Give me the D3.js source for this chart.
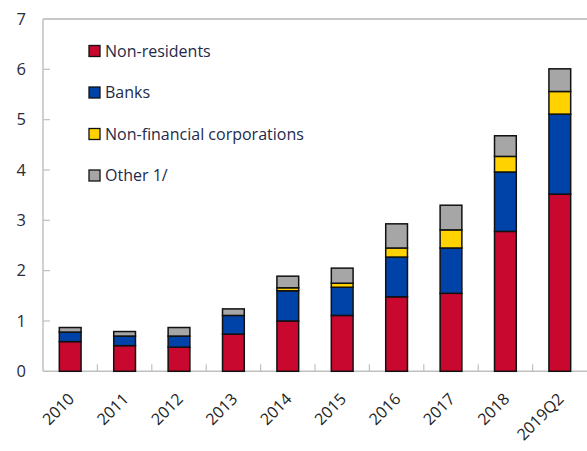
<!DOCTYPE html>
<html><head><meta charset="utf-8">
<script src="https://cdn.jsdelivr.net/npm/d3@7"></script>
<style>body{margin:0;background:#fff;} svg{display:block;}</style>
</head><body>
<script>
const categories = ["2010","2011","2012","2013","2014","2015","2016","2017","2018","2019Q2"];
const nonResidents = [0.59,0.51,0.48,0.74,1.00,1.11,1.48,1.55,2.78,3.52];
const banks        = [0.19,0.19,0.22,0.37,0.60,0.56,0.79,0.90,1.18,1.59];
const nonFinCorps  = [0.00,0.00,0.00,0.00,0.06,0.08,0.18,0.36,0.31,0.45];
const other        = [0.09,0.09,0.17,0.13,0.23,0.30,0.48,0.49,0.41,0.45];
const seriesNames = ["Non-residents","Banks","Non-financial corporations","Other 1/"];
const seriesColors = ["#c8082f","#0043a8","#ffd200","#a6a6a6"];
const yTicks = [0,1,2,3,4,5,6,7];

const W = 587, H = 451;
const m = {left:43, right:0, top:19, bottom:80};
const svg = d3.select("body").append("svg").attr("width",W).attr("height",H);

const x = d3.scaleBand().domain(categories).range([m.left, W-m.right]).paddingInner(0.6).paddingOuter(0.3);
const xb = d3.scaleBand().domain(categories).range([m.left, W-m.right]);
const y = d3.scaleLinear().domain([0,7]).range([371.3, m.top]);

const table = categories.map((c,i)=>({cat:c, s0:nonResidents[i], s1:banks[i], s2:nonFinCorps[i], s3:other[i]}));
const stack = d3.stack().keys(["s0","s1","s2","s3"])(table);

// frame lines
svg.append("line").attr("x1",m.left).attr("x2",W).attr("y1",y(7)).attr("y2",y(7)).attr("stroke","#c8c8c8").attr("stroke-width",2);
svg.append("line").attr("x1",m.left).attr("x2",m.left).attr("y1",y(7)).attr("y2",y(0)).attr("stroke","#c0c0c0").attr("stroke-width",1.5);
svg.append("line").attr("x1",m.left).attr("x2",W).attr("y1",y(0)).attr("y2",y(0)).attr("stroke","#c0c0c0").attr("stroke-width",1.5);

// y ticks
const yg = svg.append("g");
yg.selectAll("line").data(yTicks.filter(t=>t>0&&t<7)).join("line")
  .attr("x1",m.left).attr("x2",m.left+7).attr("y1",d=>y(d)).attr("y2",d=>y(d)).attr("stroke","#c0c0c0").attr("stroke-width",1.2);
yg.selectAll("text").data(yTicks).join("text")
  .attr("x",26).attr("y",d=>y(d)).attr("dy","0.35em").attr("text-anchor","end")
  .attr("font-family","Open Sans, sans-serif").attr("font-size",16.5).attr("fill","#2a2a3a").text(d=>d);

// x ticks (between categories)
svg.append("g").selectAll("line").data(categories.slice(1)).join("line")
  .attr("x1",d=>xb(d)).attr("x2",d=>xb(d)).attr("y1",y(0)).attr("y2",y(0)-7).attr("stroke","#c0c0c0").attr("stroke-width",1.2);

// bars
svg.append("g").selectAll("g").data(stack).join("g")
  .attr("fill",(d,i)=>seriesColors[i])
  .selectAll("rect").data(d=>d.filter(p=>p[1]-p[0]>0)).join("rect")
  .attr("x",d=>x(d.data.cat)).attr("width",x.bandwidth())
  .attr("y",d=>y(d[1])).attr("height",d=>y(d[0])-y(d[1]))
  .attr("stroke","#111").attr("stroke-width",1.5);

// x labels
svg.append("g").selectAll("text").data(categories).join("text")
  .attr("transform",d=>`translate(${xb(d)+xb.bandwidth()/2+5},${400}) rotate(-45)`)
  .attr("text-anchor","end")
  .attr("font-family","Open Sans, sans-serif").attr("font-size",16).attr("fill","#222").text(d=>d);

// legend
const lg = svg.append("g");
seriesNames.forEach((n,i)=>{
  const yy = 51 + i*41.5;
  lg.append("rect").attr("x",89).attr("y",yy-5.5).attr("width",11).attr("height",11)
    .attr("fill",seriesColors[i]).attr("stroke","#111").attr("stroke-width",1.3);
  lg.append("text").attr("x",105).attr("y",yy).attr("dy","0.35em")
    .attr("font-family","Open Sans, sans-serif").attr("font-size",16).attr("fill","#1e2a4a").text(n);
});
</script>
</body></html>
